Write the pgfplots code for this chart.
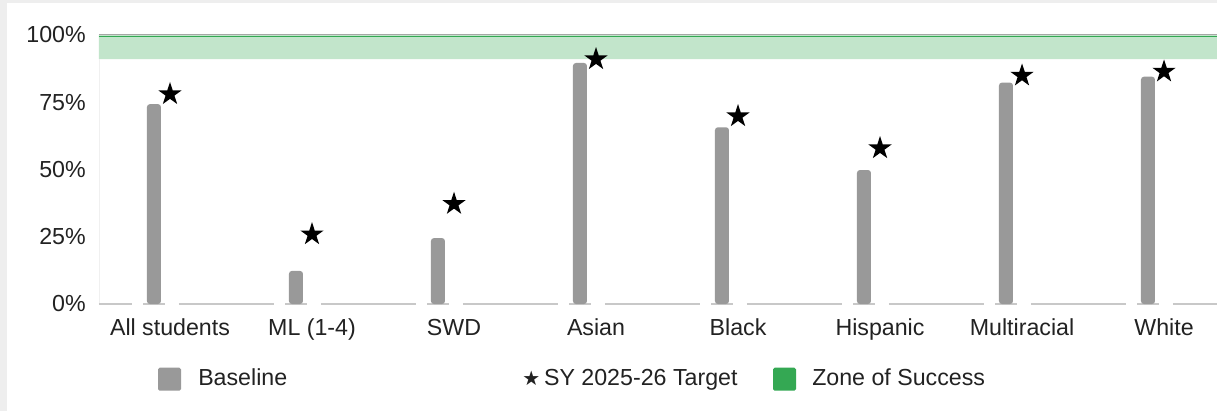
\documentclass[border=0pt]{standalone}
\usepackage{fontspec}
\setmainfont{Liberation Sans}
\newfontfamily\dejavu{DejaVu Sans}
\usepackage{pgfplots}
\pgfplotsset{compat=1.18}
\definecolor{barGray}{HTML}{999999}
\definecolor{zoneGreen}{HTML}{34A853}
\definecolor{zoneFill}{HTML}{C2E5CB}
\definecolor{baseLine}{HTML}{C8C8C8}
\definecolor{frameGray}{HTML}{EEEEEE}
\definecolor{txt}{HTML}{222222}
\pgfdeclareplotmark{fstar}{%
  \pgfpathmoveto{\pgfpointpolar{90}{9.15pt}}%
  \pgfpathlineto{\pgfpointpolar{126}{3.5pt}}%
  \pgfpathlineto{\pgfpointpolar{162}{9.15pt}}%
  \pgfpathlineto{\pgfpointpolar{198}{3.5pt}}%
  \pgfpathlineto{\pgfpointpolar{234}{9.15pt}}%
  \pgfpathlineto{\pgfpointpolar{270}{3.5pt}}%
  \pgfpathlineto{\pgfpointpolar{306}{9.15pt}}%
  \pgfpathlineto{\pgfpointpolar{342}{3.5pt}}%
  \pgfpathlineto{\pgfpointpolar{18}{9.15pt}}%
  \pgfpathlineto{\pgfpointpolar{54}{3.5pt}}%
  \pgfpathclose
  \pgfusepathqfill
}
\begin{document}
\begin{tikzpicture}[font=\fontsize{17.4}{20}\selectfont, text=txt]
\path[use as bounding box] (-74.25pt,-80.25pt) rectangle (838.5pt,228pt);
\clip (-74.25pt,-80.25pt) rectangle (838.5pt,228pt);
\fill[frameGray] (-74.25pt,-80.25pt) rectangle (838.5pt,228pt);
\fill[white] (-69pt,-80.25pt) rectangle (838.5pt,225.75pt);
\begin{axis}[
  at={(0pt,0pt)}, anchor=south west,
  scale only axis, width=838.5pt, height=201.75pt,
  xmin=-0.5, xmax=7.373, ymin=0, ymax=100,
  clip=false,
  axis line style={draw=none},
  major tick length=0pt, tick style={draw=none},
  xtick={0,1,2,3,4,5,6,7},
  xticklabels={All students, ML (1-4), SWD, Asian, Black, Hispanic, Multiracial, White},
  ytick={0,25,50,75,100},
  yticklabels={0\%,25\%,50\%,75\%,100\%},
  tick label style={font=\fontsize{17.4}{20}\selectfont, text=txt, inner sep=0pt},
  xticklabel style={anchor=base, yshift=-23.25pt},
  yticklabel style={anchor=east, xshift=-9.75pt},
  unbounded coords=jump,
]
% zone of success
\addplot[draw=none, fill=zoneFill] coordinates {(-0.5,91) (7.373,91) (7.373,100) (-0.5,100) (-0.5,91)};
\addplot[zoneGreen, line width=0.75pt] coordinates {(-0.5,99.6) (7.373,99.6)};
\addplot[black!35, line width=0.6pt] coordinates {(-0.5,100.1) (7.373,100.1)};
% faint left axis line
\addplot[black!6, line width=0.6pt] coordinates {(-0.5,0) (-0.5,91)};
% baseline segments
\addplot[baseLine, line width=0.8pt] coordinates {
(-0.5,0) (-0.268,0) (0,nan)
(-0.190,0) (-0.035,0) (0,nan) (0.063,0) (0.732,0) (0,nan)
(0.810,0) (0.965,0) (0,nan) (1.063,0) (1.732,0) (0,nan)
(1.810,0) (1.965,0) (0,nan) (2.063,0) (2.732,0) (0,nan)
(2.810,0) (2.965,0) (0,nan) (3.063,0) (3.732,0) (0,nan)
(3.810,0) (3.965,0) (0,nan) (4.063,0) (4.732,0) (0,nan)
(4.810,0) (4.965,0) (0,nan) (5.063,0) (5.732,0) (0,nan)
(5.810,0) (5.965,0) (0,nan) (6.063,0) (6.732,0) (0,nan)
(6.810,0) (6.965,0) (0,nan) (7.063,0) (7.373,0)
};
% baseline bars
\addplot[ybar, bar width=10.5pt, fill=barGray, draw=none, rounded corners=2.2pt] coordinates {
(-0.113,74.3) (0.887,12.3) (1.887,24.5) (2.887,89.6) (3.887,65.7) (4.887,49.8) (5.887,82.3) (6.887,84.5)};
% targets
\addplot[only marks, mark=fstar, black] coordinates {
(0,78.0) (1,25.9) (2,37.2) (3,91.0) (4,69.8) (5,57.9) (6,84.9) (7,86.4)};
\end{axis}
% legend
\fill[barGray, rounded corners=1.2pt] (44.25pt,-65pt) rectangle (61.5pt,-47.75pt);
\node[anchor=base west, inner sep=0pt] at (74.25pt,-60.75pt) {Baseline};
\node[anchor=base west, inner sep=0pt] at (317.25pt,-60.75pt) {{\dejavu\fontsize{15}{15}\selectfont ★}\,SY 2025-26 Target};
\fill[zoneGreen, rounded corners=1.2pt] (505.5pt,-65pt) rectangle (522.75pt,-47.75pt);
\node[anchor=base west, inner sep=0pt] at (534.75pt,-60.75pt) {Zone of Success};
\end{tikzpicture}
\end{document}
